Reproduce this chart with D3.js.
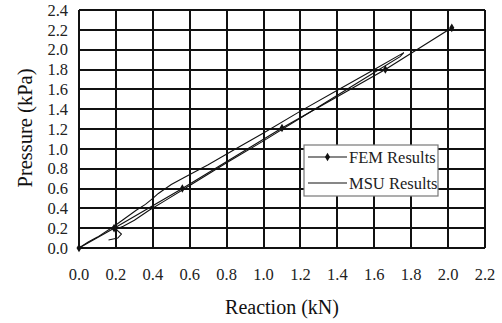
<!DOCTYPE html>
<html>
<head>
<meta charset="UTF-8">
<script src="https://d3js.org/d3.v7.min.js"></script>
<style>
  body { margin: 0; background: #fff; }
  svg { display: block; font-family: "Liberation Serif", "DejaVu Serif", serif; }
</style>
</head>
<body>
<svg id="chart" width="502" height="323"></svg>
<script>
// FEM results (markers joined by straight segments)
const femReaction = [0, 0.19, 0.56, 1.10, 1.66, 2.02];
const femPressure = [0, 0.20, 0.60, 1.21, 1.80, 2.22];

// MSU results: loading branch up, unloading branch back down, small curl at the end
const msuReaction = [0, 0.05, 0.10, 0.19, 0.25, 0.31, 0.36, 0.40, 0.43, 0.50, 0.57, 0.70, 0.85, 1.00, 1.20, 1.40, 1.60, 1.76,
                     1.74, 1.60, 1.40, 1.20, 1.00, 0.80, 0.60, 0.46, 0.38, 0.30, 0.24, 0.20, 0.23, 0.21, 0.16];
const msuPressure = [0, 0.06, 0.11, 0.22, 0.30, 0.38, 0.44, 0.50, 0.55, 0.64, 0.71, 0.84, 1.00, 1.16, 1.38, 1.59, 1.80, 1.97,
                     1.93, 1.77, 1.54, 1.31, 1.08, 0.86, 0.63, 0.47, 0.38, 0.28, 0.22, 0.19, 0.14, 0.10, 0.08];

const xTicks = d3.range(0, 2.21, 0.2);
const yTicks = d3.range(0, 2.41, 0.2);

const svg = d3.select("#chart");
const m = { left: 79, right: 485, top: 10, bottom: 248 };

const x = d3.scaleLinear().domain([0, 2.2]).range([m.left, m.right]);
const y = d3.scaleLinear().domain([0, 2.4]).range([m.bottom, m.top]);

// grid
const grid = svg.append("g").attr("stroke", "#111").attr("stroke-width", 2);
grid.selectAll("line.v").data(xTicks).enter().append("line")
  .attr("x1", d => Math.round(x(d))).attr("x2", d => Math.round(x(d)))
  .attr("y1", m.top).attr("y2", m.bottom);
grid.selectAll("line.h").data(yTicks).enter().append("line")
  .attr("y1", d => Math.round(y(d))).attr("y2", d => Math.round(y(d)))
  .attr("x1", m.left).attr("x2", m.right);

// tick labels
svg.append("g").selectAll("text").data(yTicks).enter().append("text")
  .attr("x", 68).attr("y", d => y(d)).attr("dy", "0.35em")
  .attr("text-anchor", "end").attr("font-size", 16.5).attr("fill", "#222")
  .text(d => d.toFixed(1));
svg.append("g").selectAll("text").data(xTicks).enter().append("text")
  .attr("x", d => x(d)).attr("y", 280)
  .attr("text-anchor", "middle").attr("font-size", 16.5).attr("fill", "#222")
  .text(d => d.toFixed(1));

// axis titles
svg.append("text").attr("x", (m.left + m.right) / 2).attr("y", 314)
  .attr("text-anchor", "middle").attr("font-size", 20).attr("fill", "#111")
  .text("Reaction (kN)");
svg.append("text").attr("transform", "translate(32,128) rotate(-90)")
  .attr("text-anchor", "middle").attr("font-size", 20.5).attr("fill", "#111")
  .text("Pressure (kPa)");

const line = d3.line().x(d => x(d[0])).y(d => y(d[1]));

// MSU
const msu = msuReaction.map((r, i) => [r, msuPressure[i]]);
svg.append("path").attr("d", line(msu))
  .attr("fill", "none").attr("stroke", "#111").attr("stroke-width", 1.1);

// FEM
const fem = femReaction.map((r, i) => [r, femPressure[i]]);
svg.append("path").attr("d", line(fem))
  .attr("fill", "none").attr("stroke", "#111").attr("stroke-width", 1.2);
const diamond = d3.symbol().type(d3.symbolDiamond).size(22);
svg.append("g").selectAll("path").data(fem).enter().append("path")
  .attr("d", diamond)
  .attr("transform", d => `translate(${x(d[0])},${y(d[1])})`)
  .attr("fill", "#111");

// legend
const lg = svg.append("g");
lg.append("rect").attr("x", 304).attr("y", 145).attr("width", 134).attr("height", 51)
  .attr("fill", "#fff").attr("stroke", "#777").attr("stroke-width", 1.2);
lg.append("line").attr("x1", 308).attr("x2", 347).attr("y1", 157).attr("y2", 157)
  .attr("stroke", "#111").attr("stroke-width", 1.2);
lg.append("path").attr("d", diamond).attr("transform", "translate(327.5,157)").attr("fill", "#111");
lg.append("line").attr("x1", 308).attr("x2", 347).attr("y1", 183).attr("y2", 183)
  .attr("stroke", "#111").attr("stroke-width", 1.1);
lg.append("text").attr("x", 349).attr("y", 157).attr("dy", "0.35em")
  .attr("font-size", 16.5).attr("fill", "#222").text("FEM Results");
lg.append("text").attr("x", 349).attr("y", 183).attr("dy", "0.35em")
  .attr("font-size", 16.5).attr("fill", "#222").text("MSU Results");
</script>
</body>
</html>
